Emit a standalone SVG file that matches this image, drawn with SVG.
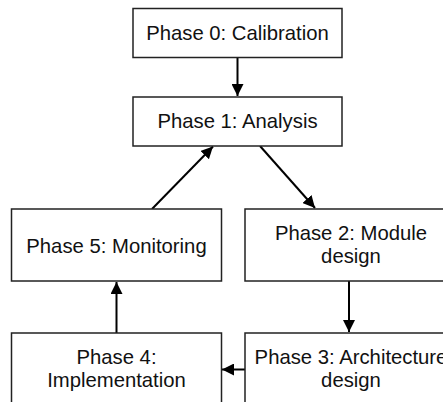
<svg xmlns="http://www.w3.org/2000/svg" width="443" height="402" viewBox="0 0 443 402">
<style>
.box{fill:#fff;stroke:#222;stroke-width:1.5}
.t{font-family:"Liberation Sans",Arial,sans-serif;font-size:20.3px;fill:#111;text-anchor:middle}
.c{stroke:#000;stroke-width:2;fill:none;marker-end:url(#ah)}
</style>
<defs>
<marker id="ah" viewBox="0 0 10 10" refX="10" refY="5" markerWidth="6" markerHeight="6" orient="auto" markerUnits="strokeWidth">
<path d="M0,0 L10,5 L0,10 z" fill="#000"/>
</marker>
</defs>
<rect width="443" height="402" fill="#fff"/>
<g id="connectors">
<line class="c" x1="237.5" y1="57.5" x2="237.5" y2="96"/>
<line class="c" x1="260" y1="146" x2="315" y2="208"/>
<line class="c" x1="349" y1="281" x2="349" y2="332"/>
<line class="c" x1="245" y1="369.5" x2="222" y2="369.5"/>
<line class="c" x1="116.5" y1="333" x2="116.5" y2="282"/>
<line class="c" x1="152" y1="209" x2="213" y2="146.5"/>
</g>
<g id="phase0">
<rect class="box" x="133" y="8.5" width="209" height="49"/>
<text class="t" x="237.5" y="40">Phase 0: Calibration</text>
</g>
<g id="phase1">
<rect class="box" x="133" y="97" width="209" height="49"/>
<text class="t" x="237.5" y="128">Phase 1: Analysis</text>
</g>
<g id="phase5">
<rect class="box" x="11.5" y="209" width="210" height="72"/>
<text class="t" x="116.5" y="253">Phase 5: Monitoring</text>
</g>
<g id="phase2">
<rect class="box" x="245" y="209" width="210" height="72"/>
<text class="t" x="351" y="240">Phase 2: Module</text>
<text class="t" x="351" y="263">design</text>
</g>
<g id="phase4">
<rect class="box" x="11.5" y="333" width="210" height="72"/>
<text class="t" x="116.5" y="364">Phase 4:</text>
<text class="t" x="116.5" y="387">Implementation</text>
</g>
<g id="phase3">
<rect class="box" x="245" y="333" width="210" height="72"/>
<text class="t" x="351" y="364">Phase 3: Architecture</text>
<text class="t" x="351" y="387">design</text>
</g>
</svg>
